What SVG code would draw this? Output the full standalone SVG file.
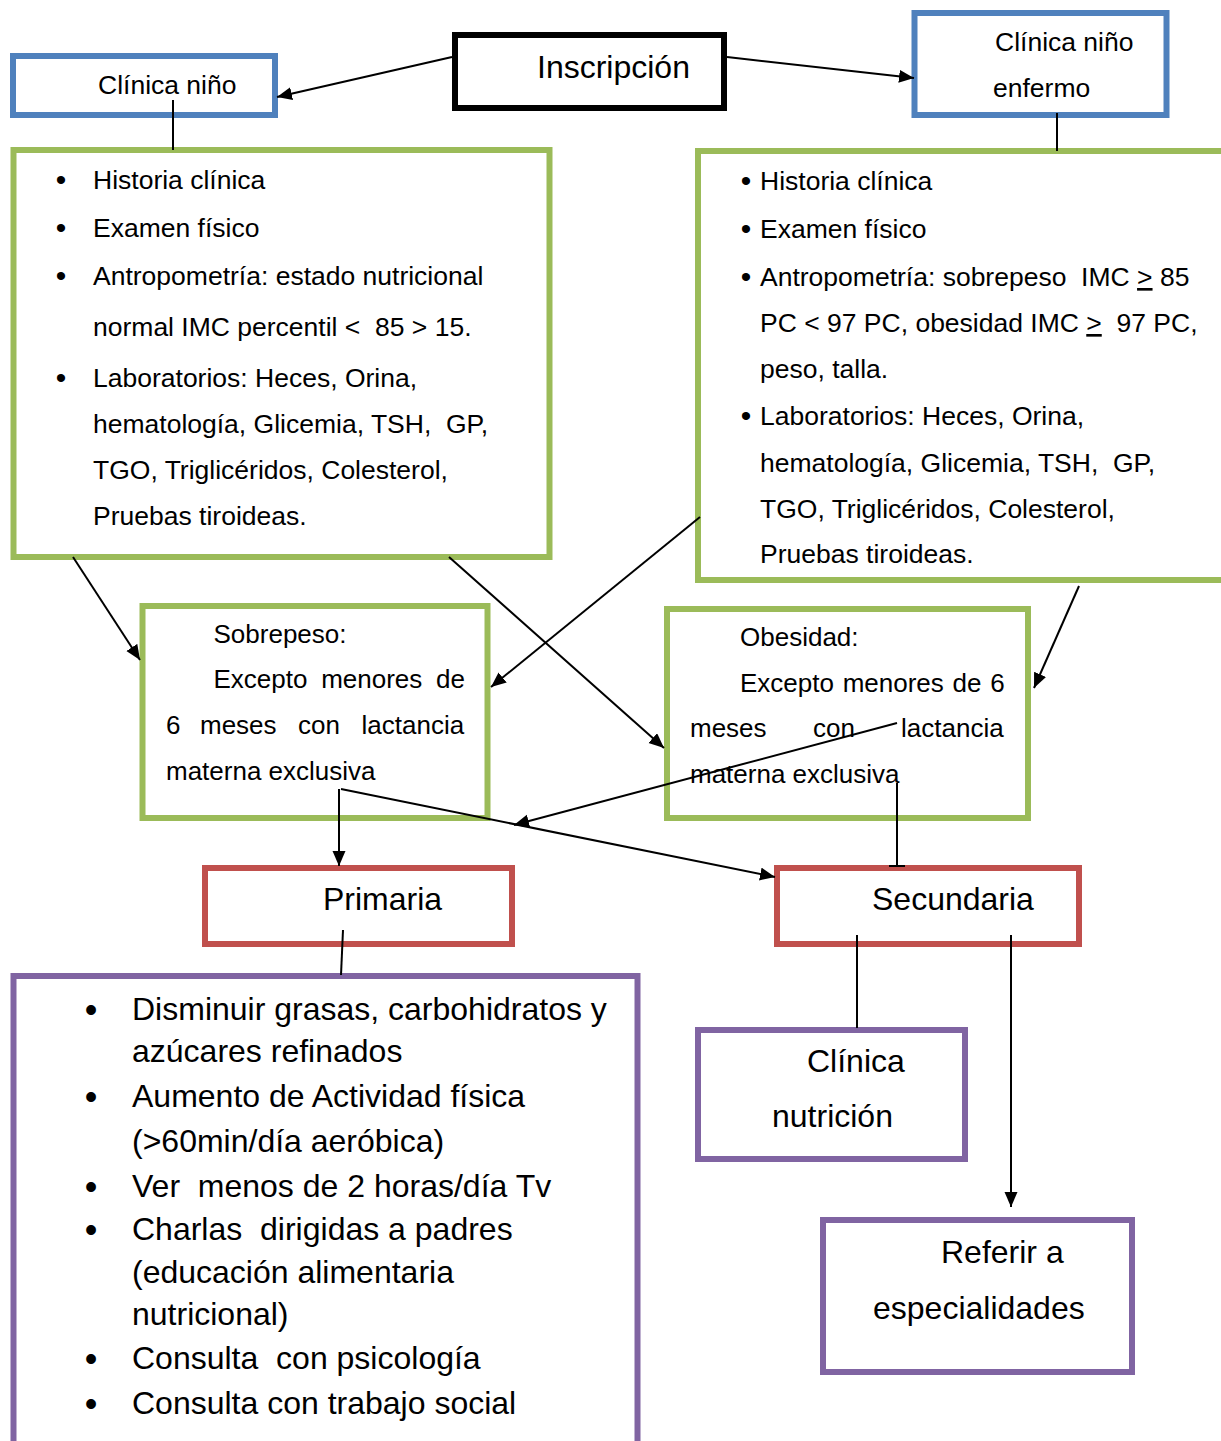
<svg xmlns="http://www.w3.org/2000/svg" width="1221" height="1441" viewBox="0 0 1221 1441">
<style>
text{font-family:"Liberation Sans",Arial,Helvetica,sans-serif;fill:#000}
.t26{font-size:26.5px}
.t26b{font-size:26px}
.t32{font-size:32px}
.bul{font-size:30px;text-anchor:middle}
.bulL{font-size:36px;text-anchor:middle}
.box{fill:#fff;stroke-width:6}
.blk{stroke:#000}
.blue{stroke:#4F81BD}
.green{stroke:#9BBB59}
.red{stroke:#C0504D}
.purple{stroke:#8064A2}
.c{stroke:#000;stroke-width:2;fill:none}
.a{marker-end:url(#arr)}
</style>
<defs>
<marker id="arr" markerUnits="userSpaceOnUse" markerWidth="16" markerHeight="14" refX="15" refY="6.5" orient="auto">
<path d="M0,0 L15,6.5 L0,13 z" fill="#000"/>
</marker>
</defs>
<rect width="1221" height="1441" fill="#fff"/>

<g id="inscripcion">
<rect class="box blk" x="455" y="35" width="269" height="73"/>
<text class="t32" x="537" y="78">Inscripción</text>
</g>

<g id="clinica-nino">
<rect class="box blue" x="13" y="56" width="262" height="59"/>
<text class="t26" x="98" y="94">Clínica niño</text>
</g>

<g id="clinica-nino-enfermo">
<rect class="box blue" x="914.5" y="13" width="252" height="102"/>
<text class="t26" x="995" y="51">Clínica niño</text>
<text class="t26" x="993" y="97">enfermo</text>
</g>

<g id="evaluacion-normal">
<rect class="box green" x="13.5" y="150" width="536" height="407"/>
<text class="bul" x="61" y="190">•</text>
<text class="bul" x="61" y="238">•</text>
<text class="bul" x="61" y="286">•</text>
<text class="bul" x="61" y="388">•</text>
<text class="t26" x="93" y="189">Historia clínica</text>
<text class="t26" x="93" y="237">Examen físico</text>
<text class="t26" x="93" y="285">Antropometría: estado nutricional</text>
<text class="t26" x="93" y="336" xml:space="preserve">normal IMC percentil &lt;  85 &gt; 15.</text>
<text class="t26" x="93" y="387">Laboratorios: Heces, Orina,</text>
<text class="t26" x="93" y="433" xml:space="preserve">hematología, Glicemia, TSH,  GP,</text>
<text class="t26" x="93" y="479">TGO, Triglicéridos, Colesterol,</text>
<text class="t26" x="93" y="525">Pruebas tiroideas.</text>
</g>

<g id="evaluacion-enfermo">
<rect class="box green" x="698" y="151" width="540" height="429"/>
<text class="bul" x="746" y="191">•</text>
<text class="bul" x="746" y="239">•</text>
<text class="bul" x="746" y="287">•</text>
<text class="bul" x="746" y="426">•</text>
<text class="t26" x="760" y="190">Historia clínica</text>
<text class="t26" x="760" y="238">Examen físico</text>
<text class="t26" x="760" y="286" xml:space="preserve">Antropometría: sobrepeso  IMC <tspan text-decoration="underline">&gt;</tspan> 85</text>
<text class="t26" x="760" y="332" xml:space="preserve">PC &lt; 97 PC, obesidad IMC <tspan text-decoration="underline">&gt;</tspan>  97 PC,</text>
<text class="t26" x="760" y="378">peso, talla.</text>
<text class="t26" x="760" y="425">Laboratorios: Heces, Orina,</text>
<text class="t26" x="760" y="472" xml:space="preserve">hematología, Glicemia, TSH,  GP,</text>
<text class="t26" x="760" y="518">TGO, Triglicéridos, Colesterol,</text>
<text class="t26" x="760" y="563">Pruebas tiroideas.</text>
</g>

<g id="sobrepeso">
<rect class="box green" x="142.5" y="606" width="345" height="212"/>
<text class="t26b" x="213.5" y="643">Sobrepeso:</text>
<text class="t26b" x="213.5" y="688" word-spacing="6.5">Excepto menores de</text>
<text class="t26b" y="734"><tspan x="166">6</tspan><tspan x="200">meses</tspan><tspan x="298">con</tspan><tspan x="361.5">lactancia</tspan></text>
<text class="t26b" x="166" y="780">materna exclusiva</text>
</g>

<g id="obesidad">
<rect class="box green" x="667" y="609" width="361" height="209"/>
<text class="t26b" x="740" y="646">Obesidad:</text>
<text class="t26b" x="740" y="692" word-spacing="1.5">Excepto menores de 6</text>
<text class="t26b" y="737"><tspan x="690">meses</tspan><tspan x="813">con</tspan><tspan x="901">lactancia</tspan></text>
<text class="t26b" x="690" y="783">materna exclusiva</text>
</g>

<g id="primaria">
<rect class="box red" x="205" y="868" width="307" height="76"/>
<text class="t32" x="323" y="910">Primaria</text>
</g>

<g id="secundaria">
<rect class="box red" x="777" y="868" width="302" height="76"/>
<text class="t32" x="872" y="910">Secundaria</text>
</g>

<g id="acciones-primaria">
<rect class="box purple" x="13.5" y="976" width="624" height="480"/>
<text class="bulL" x="91" y="1022">•</text>
<text class="bulL" x="91" y="1109">•</text>
<text class="bulL" x="91" y="1199">•</text>
<text class="bulL" x="91" y="1242">•</text>
<text class="bulL" x="91" y="1371">•</text>
<text class="bulL" x="91" y="1416">•</text>
<text class="t32" x="132" y="1020">Disminuir grasas, carbohidratos y</text>
<text class="t32" x="132" y="1062">azúcares refinados</text>
<text class="t32" x="132" y="1107">Aumento de Actividad física</text>
<text class="t32" x="132" y="1152">(&gt;60min/día aeróbica)</text>
<text class="t32" x="132" y="1197" xml:space="preserve">Ver  menos de 2 horas/día Tv</text>
<text class="t32" x="132" y="1240" xml:space="preserve">Charlas  dirigidas a padres</text>
<text class="t32" x="132" y="1283">(educación alimentaria</text>
<text class="t32" x="132" y="1325">nutricional)</text>
<text class="t32" x="132" y="1369" xml:space="preserve">Consulta  con psicología</text>
<text class="t32" x="132" y="1414">Consulta con trabajo social</text>
</g>

<g id="clinica-nutricion">
<rect class="box purple" x="698" y="1030" width="267" height="129"/>
<text class="t32" x="807" y="1072">Clínica</text>
<text class="t32" x="772" y="1127">nutrición</text>
</g>

<g id="referir">
<rect class="box purple" x="823" y="1220" width="309" height="152"/>
<text class="t32" x="941" y="1263">Referir a</text>
<text class="t32" x="873" y="1319">especialidades</text>
</g>

<g id="connectors">
<path class="c a" d="M452,57 L277,97"/>
<path class="c a" d="M727,57 L914,78"/>
<path class="c" d="M173,100 L173,150"/>
<path class="c" d="M1057,113 L1057,151"/>
<path class="c a" d="M73,557 L140,660"/>
<path class="c a" d="M449,557 L664,748"/>
<path class="c a" d="M700,517 L491,687"/>
<path class="c a" d="M1079,586 L1034,688"/>
<path class="c a" d="M339,789 L339,866"/>
<path class="c a" d="M341,789 L775,877"/>
<path class="c a" d="M897,723 L514,825"/>
<path class="c" d="M897,783 L897,866 M889,866 L905,866"/>
<path class="c" d="M343,930 L341,975"/>
<path class="c" d="M857,935 L857,1028"/>
<path class="c a" d="M1011,935 L1011,1207"/>
</g>
</svg>
